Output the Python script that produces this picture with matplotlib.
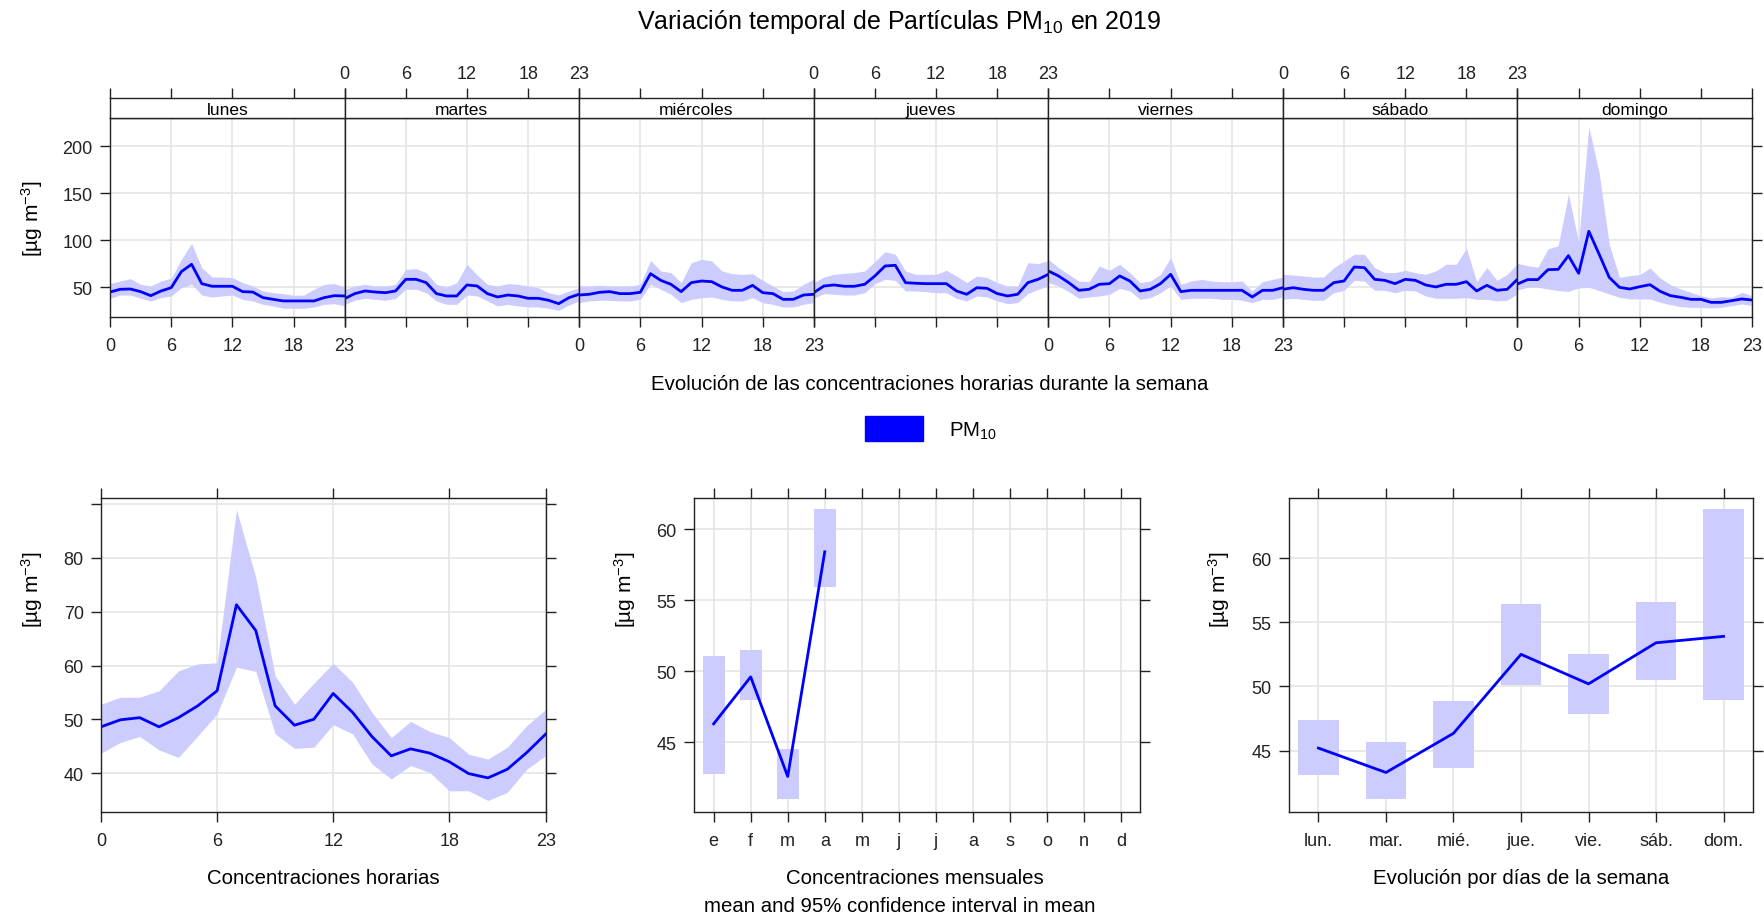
import numpy as np
import matplotlib.pyplot as plt

plt.rcParams['font.family'] = ['Liberation Sans', 'DejaVu Sans']
plt.rcParams['mathtext.default'] = 'regular'

# ---- datos -------------------------------------------------------------
days = ['lunes', 'martes', 'miércoles', 'jueves', 'viernes', 'sábado', 'domingo']
hours = list(range(24))

mean_lun = [45.0, 47.9, 48.2, 45.4, 41.1, 46.1, 49.6, 66.7, 74.5, 53.9, 51.1, 51.1,
            51.1, 45.4, 45.0, 39.0, 37.2, 35.5, 35.5, 35.5, 35.5, 39.0, 41.1, 40.8]
hi_lun = [53.9, 56.7, 59.2, 53.2, 51.4, 56.7, 59.6, 79.8, 96.8, 70.9, 61.0, 61.0,
          60.3, 55.0, 51.4, 46.1, 44.3, 43.3, 41.5, 41.8, 47.9, 53.2, 53.9, 50.4]
lo_lun = [38.3, 41.8, 41.8, 38.3, 35.5, 39.0, 40.8, 49.6, 53.2, 41.8, 39.7, 40.8,
          41.8, 37.2, 35.5, 31.9, 30.1, 27.7, 27.7, 27.7, 29.1, 31.9, 32.6, 30.1]

mean_mar = [37.9, 43.3, 46.1, 45.0, 44.3, 46.1, 58.5, 58.5, 55.0, 43.3, 40.8, 40.8,
            52.5, 51.4, 43.3, 39.7, 41.8, 40.8, 38.3, 38.3, 36.2, 32.6, 39.0, 42.6]
hi_mar = [47.9, 51.4, 53.2, 51.4, 51.4, 53.2, 69.1, 69.9, 65.6, 53.2, 50.4, 55.0,
          74.5, 63.1, 53.2, 51.4, 53.9, 53.2, 51.4, 49.6, 44.3, 41.8, 46.1, 49.6]
lo_mar = [31.9, 36.2, 38.3, 37.2, 36.2, 38.3, 47.9, 47.9, 44.3, 35.5, 31.9, 31.9,
          41.8, 40.8, 35.5, 30.1, 31.9, 30.1, 29.1, 29.1, 27.7, 25.5, 31.2, 35.5]

mean_mie = [41.8, 42.6, 44.7, 45.4, 43.3, 43.3, 44.7, 64.5, 57.4, 53.2, 45.4, 55.0,
            56.7, 56.0, 50.4, 46.8, 46.8, 52.1, 44.3, 43.3, 37.2, 37.2, 41.8, 42.6]
hi_mie = [51.4, 51.4, 52.1, 51.4, 51.4, 51.4, 53.2, 78.7, 67.4, 65.6, 55.0, 76.2,
          79.8, 78.0, 67.4, 64.5, 63.8, 64.5, 57.4, 51.4, 45.4, 46.1, 53.2, 58.5]
lo_mie = [33.7, 35.5, 36.2, 36.2, 35.5, 35.5, 37.2, 53.2, 47.9, 42.6, 33.7, 37.2,
          39.0, 39.7, 37.2, 35.5, 35.5, 39.0, 33.7, 31.9, 29.1, 29.1, 31.9, 33.7]

mean_jue = [44.3, 51.4, 52.5, 51.1, 51.1, 53.2, 62.1, 72.7, 73.4, 55.0, 54.3, 53.9,
            53.9, 53.9, 46.1, 42.6, 49.6, 48.9, 43.3, 40.8, 42.6, 55.0, 58.5, 63.8]
hi_jue = [55.0, 61.0, 63.8, 64.9, 65.6, 67.4, 77.3, 87.9, 85.1, 67.4, 63.8, 63.8,
          63.8, 68.1, 62.1, 55.0, 62.1, 60.3, 55.0, 51.4, 51.4, 76.2, 75.2, 78.7]
lo_jue = [38.3, 43.3, 42.6, 41.8, 41.8, 44.3, 53.9, 58.5, 57.4, 46.1, 46.1, 45.4,
          44.3, 44.3, 38.3, 35.5, 40.8, 39.7, 35.5, 32.6, 33.7, 43.3, 47.9, 51.4]

mean_vie = [67.4, 62.1, 55.0, 46.8, 47.9, 53.2, 53.9, 62.1, 56.7, 46.1, 47.9, 53.9,
            63.8, 45.4, 46.8, 46.8, 46.8, 46.8, 46.8, 46.8, 39.7, 46.8, 46.8, 49.6]
hi_vie = [79.8, 70.9, 63.8, 56.7, 56.0, 72.7, 68.1, 74.5, 65.6, 55.0, 56.7, 63.8,
          81.6, 53.2, 56.7, 58.5, 56.7, 56.0, 56.0, 56.7, 46.1, 56.0, 58.5, 61.0]
lo_vie = [55.0, 51.4, 45.4, 38.3, 39.7, 40.8, 42.6, 48.9, 46.1, 37.2, 39.0, 44.3,
          51.4, 37.2, 38.3, 38.3, 38.3, 37.2, 37.2, 36.2, 33.7, 37.2, 37.2, 39.7]

mean_sab = [47.9, 49.6, 47.9, 46.8, 46.8, 55.0, 56.7, 71.6, 70.9, 58.5, 57.4, 53.9,
            58.5, 57.4, 52.5, 50.4, 53.2, 53.2, 56.0, 46.1, 52.1, 46.8, 47.9, 58.5]
hi_sab = [63.8, 63.1, 62.1, 61.0, 61.0, 70.9, 78.0, 85.1, 85.1, 70.9, 65.6, 65.6,
          68.1, 65.6, 63.8, 67.4, 74.5, 74.5, 91.5, 56.0, 70.9, 57.4, 63.8, 75.2]
lo_sab = [37.2, 38.3, 37.2, 36.2, 36.2, 44.3, 46.8, 57.4, 56.7, 46.8, 46.8, 44.3,
          46.8, 46.1, 40.8, 38.3, 38.3, 38.3, 39.0, 37.2, 37.2, 35.5, 36.2, 43.3]

mean_dom = [53.5, 58.2, 58.2, 68.8, 69.1, 83.7, 64.9, 109.6, 85.5, 60.6, 50.0, 48.2,
            50.7, 52.8, 45.7, 41.1, 39.4, 37.2, 37.2, 34.0, 34.0, 35.8, 37.6, 36.5]
hi_dom = [75.5, 73.0, 71.3, 90.8, 94.3, 149.3, 97.9, 220.9, 172.3, 96.1, 60.6, 62.4,
          63.5, 70.6, 59.9, 52.8, 48.2, 44.7, 41.1, 38.7, 40.1, 39.4, 44.7, 41.1]
lo_dom = [47.2, 50.0, 50.0, 48.2, 46.5, 45.7, 49.3, 50.0, 46.5, 42.9, 39.4, 37.6,
          37.6, 37.6, 34.0, 31.6, 29.4, 28.7, 28.7, 28.0, 28.7, 30.5, 32.3, 30.5]

week_mean = [mean_lun, mean_mar, mean_mie, mean_jue, mean_vie, mean_sab, mean_dom]
week_hi = [hi_lun, hi_mar, hi_mie, hi_jue, hi_vie, hi_sab, hi_dom]
week_lo = [lo_lun, lo_mar, lo_mie, lo_jue, lo_vie, lo_sab, lo_dom]

hour_mean = [48.6, 49.9, 50.3, 48.6, 50.3, 52.5, 55.3, 71.3, 66.5, 52.5, 48.9, 50.0,
             54.8, 51.3, 46.8, 43.2, 44.5, 43.7, 42.1, 39.9, 39.1, 40.7, 43.8, 47.3]
hour_hi = [52.8, 54.1, 54.1, 55.3, 59.0, 60.3, 60.5, 89.0, 76.4, 58.1, 52.8, 56.7,
           60.4, 56.9, 51.3, 46.6, 49.6, 47.7, 46.6, 43.5, 42.6, 44.8, 48.8, 51.9]
hour_lo = [43.7, 45.7, 46.8, 44.3, 42.9, 46.9, 51.0, 59.7, 58.9, 47.3, 44.6, 44.8,
           49.0, 47.3, 41.7, 38.9, 41.4, 40.1, 36.7, 36.7, 34.9, 36.4, 40.7, 43.3]

month_labels = ['e', 'f', 'm', 'a', 'm', 'j', 'j', 'a', 's', 'o', 'n', 'd']
month_num = [1, 2, 3, 4]
month_mean = [46.3, 49.6, 42.6, 58.4]
month_hi = [51.1, 51.5, 44.5, 61.4]
month_lo = [42.8, 48.0, 41.0, 55.9]

wday_labels = ['lun.', 'mar.', 'mié.', 'jue.', 'vie.', 'sáb.', 'dom.']
wday_mean = [45.2, 43.3, 46.35, 52.5, 50.2, 53.4, 53.9]
wday_hi = [47.4, 45.65, 48.85, 56.45, 52.55, 56.55, 63.85]
wday_lo = [43.1, 41.2, 43.65, 50.1, 47.85, 50.5, 48.95]

# ---- estilo ------------------------------------------------------------
W, H = 1765, 920
LINE = '#0000FF'
BAND = '#CCCCFF'
GRID = '#E3E3E3'
YLAB = '[µg m$^{-3}$]'
TICK = 13
TLEN = 7.5
LAB = 14.7

fig = plt.figure(figsize=(W / 100, H / 100), dpi=100)


def rect(l, t, r, b):
    return [l / W, 1 - b / H, (r - l) / W, (b - t) / H]


def style(ax):
    for s in ax.spines.values():
        s.set_linewidth(1.0)
        s.set_color('#222222')
    ax.tick_params(direction='out', length=TLEN, width=1.0, labelsize=TICK,
                   colors='#222222')
    ax.tick_params(axis='x', pad=7)
    ax.tick_params(axis='y', pad=5)
    ax.grid(color=GRID, lw=1.1)
    ax.set_axisbelow(True)


# ---- panel semanal -----------------------------------------------------
x0, x1 = 110, 1752
dw = (x1 - x0) / 7
for i, day in enumerate(days):
    l = x0 + i * dw
    ax = fig.add_axes(rect(l, 119.3, l + dw, 318.3))
    ax.fill_between(hours, week_lo[i], week_hi[i], color=BAND, lw=0)
    ax.plot(hours, week_mean[i], color=LINE, lw=2.0)
    ax.set_xlim(0, 23)
    ax.set_ylim(18.1, 229.8)
    ax.set_xticks([0, 6, 12, 18, 23])
    ax.set_yticks([50, 100, 150, 200])
    style(ax)
    ax.tick_params(left=(i == 0), labelleft=(i == 0), right=(i == 6),
                   labelbottom=(i % 2 == 0))

    sx = fig.add_axes(rect(l, 99.3, l + dw, 119.3))
    sx.set_xlim(0, 23)
    sx.set_ylim(0, 1)
    sx.set_xticks([0, 6, 12, 18, 23])
    sx.set_yticks([])
    for s in sx.spines.values():
        s.set_linewidth(1.0)
        s.set_color('#222222')
    sx.tick_params(direction='out', length=TLEN, width=1.0, labelsize=TICK,
                   colors='#222222', bottom=False, labelbottom=False,
                   top=True, labeltop=(i % 2 == 1), pad=4.5)
    sx.text(11.5, 0.45, day, ha='center', va='center', fontsize=12.5)

fig.text(32 / W, 1 - 219 / H, YLAB, rotation=90, ha='center', va='center', fontsize=15)
fig.text(930 / W, 1 - 384 / H, 'Evolución de las concentraciones horarias durante la semana',
         ha='center', va='center', fontsize=LAB)
fig.text(899 / W, 1 - 22 / H, 'Variación temporal de Partículas PM$_{10}$ en 2019',
         ha='center', va='center', fontsize=18)

# leyenda
fig.patches.append(plt.Rectangle((865 / W, 1 - 442 / H), 58 / W, 25 / H,
                                 color=LINE, transform=fig.transFigure, figure=fig))
fig.text(949 / W, 1 - 431 / H, 'PM$_{10}$', ha='left', va='center', fontsize=LAB)

# ---- panel horario -----------------------------------------------------
ax = fig.add_axes(rect(101, 499.3, 546, 813.3))
ax.fill_between(hours, hour_lo, hour_hi, color=BAND, lw=0)
ax.plot(hours, hour_mean, color=LINE, lw=2.0)
ax.set_xlim(0, 23)
ax.set_ylim(32.7, 91.1)
ax.set_xticks([0, 6, 12, 18, 23])
ax.set_yticks([40, 50, 60, 70, 80, 90])
ax.set_yticklabels(['40', '50', '60', '70', '80', ''])
style(ax)
ax.tick_params(top=True, right=True, labeltop=False, labelright=False)
fig.text(32 / W, 1 - 590 / H, YLAB, rotation=90, ha='center', va='center', fontsize=15)
fig.text(323 / W, 1 - 879 / H, 'Concentraciones horarias', ha='center', va='center',
         fontsize=LAB)

# ---- panel mensual -----------------------------------------------------
ax = fig.add_axes(rect(694, 499.3, 1140, 813.3))
ax.bar(month_num, np.subtract(month_hi, month_lo), bottom=month_lo, width=0.6,
       color=BAND, lw=0)
ax.plot(month_num, month_mean, color=LINE, lw=2.0)
ax.set_xlim(0.47, 12.51)
ax.set_ylim(40.08, 62.16)
ax.set_xticks(range(1, 13))
ax.set_xticklabels(month_labels)
ax.set_yticks([45, 50, 55, 60])
style(ax)
ax.tick_params(top=True, right=True, labeltop=False, labelright=False)
fig.text(625 / W, 1 - 590 / H, YLAB, rotation=90, ha='center', va='center', fontsize=15)
fig.text(915 / W, 1 - 879 / H, 'Concentraciones mensuales', ha='center', va='center',
         fontsize=LAB)
fig.text(900 / W, 1 - 907 / H, 'mean and 95% confidence interval in mean',
         ha='center', va='center', fontsize=LAB)

# ---- panel por día de la semana ---------------------------------------
wx = list(range(1, 8))
ax = fig.add_axes(rect(1288.6, 499.3, 1753, 813.3))
ax.bar(wx, np.subtract(wday_hi, wday_lo), bottom=wday_lo, width=0.6, color=BAND, lw=0)
ax.plot(wx, wday_mean, color=LINE, lw=2.0)
ax.set_xlim(0.558, 7.436)
ax.set_ylim(40.2, 64.65)
ax.set_xticks(wx)
ax.set_xticklabels(wday_labels)
ax.set_yticks([45, 50, 55, 60])
style(ax)
ax.tick_params(top=True, right=True, labeltop=False, labelright=False)
fig.text(1219 / W, 1 - 590 / H, YLAB, rotation=90, ha='center', va='center', fontsize=15)
fig.text(1521 / W, 1 - 879 / H, 'Evolución por días de la semana', ha='center',
         va='center', fontsize=LAB)

fig.savefig('out.png', dpi=100)
